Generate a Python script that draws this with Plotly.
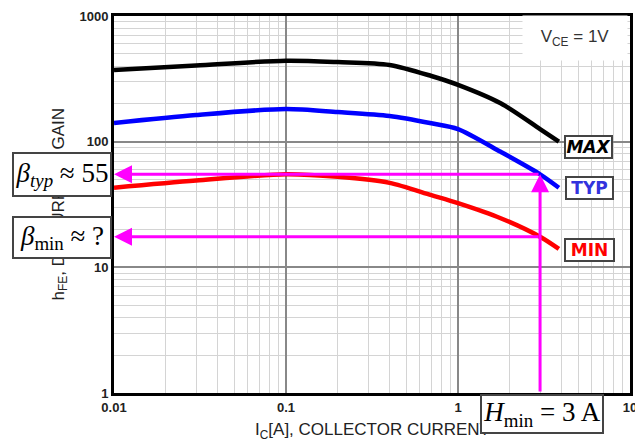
import math
import plotly.graph_objects as go

# ---- data ----
ic = [0.01, 0.03, 0.1, 0.2, 0.4, 0.7, 1.0, 1.77, 3.0, 3.86]
hfe_max = [372, 404, 441, 430, 408, 333, 283, 202, 126, 100]
hfe_typ = [141, 163, 182, 172, 160, 140, 126, 83, 55, 43]
hfe_min = [43, 49, 55, 52.5, 47, 37.5, 32.4, 24.6, 17.5, 14]

x_ticks = [0.01, 0.1, 1, 10]
x_ticktext = ["0.01", "0.1", "1", "10"]
y_ticks = [1, 10, 100, 1000]
y_ticktext = ["1", "10", "100", "1000"]

ic_op = 3.0
beta_typ = 55
beta_min = 17.5

# plot-area geometry (pixels) for paper-coordinate helpers
L, R, T, B = 114, 630, 16, 393
W, H = 635, 443
def px(x):
    return (x - L) / (R - L)
def py(y):
    return (B - y) / (B - T)

fig = go.Figure()
for ys, col in [(hfe_max, "black"), (hfe_typ, "#0000ff"), (hfe_min, "#ff0000")]:
    fig.add_trace(go.Scatter(x=ic, y=ys, mode="lines",
                             line=dict(color=col, width=4.5, shape="spline", smoothing=0.8),
                             showlegend=False, hoverinfo="skip"))

C = dict(xanchor="center", yanchor="middle")
ann = []
# axis titles
ann.append(dict(xref="paper", yref="paper", x=px(59), y=0.5, textangle=-90,
                text="h<sub>FE</sub>, DC CURRENT GAIN", showarrow=False,
                font=dict(family="Liberation Sans", size=17, color="#222"), **C))
ann.append(dict(xref="paper", yref="paper", x=0.5, y=py(431),
                text="I<sub>C</sub>[A], COLLECTOR CURRENT", showarrow=False,
                font=dict(family="Liberation Sans", size=17, color="#222"), **C))
# magenta arrows
mag = "#ff00ff"
for (x0, y0, x1, y1) in [(ic_op, beta_typ, 0.01, beta_typ),
                         (ic_op, beta_min, 0.01, beta_min),
                         (ic_op, 1, ic_op, beta_typ)]:
    ann.append(dict(xref="x", yref="y", axref="x", ayref="y",
                    x=math.log10(x1), y=math.log10(y1),
                    ax=math.log10(x0), ay=math.log10(y0),
                    text="", showarrow=True, arrowhead=2, arrowsize=1.2,
                    arrowwidth=3, arrowcolor=mag, standoff=0, startstandoff=0))
# V_CE label
ann.append(dict(xref="paper", yref="paper", x=px(575), y=py(38),
                text="V<sub>CE</sub> = 1V", showarrow=False,
                font=dict(family="Liberation Sans", size=17, color="#333"),
                bgcolor="white", width=102, height=42, **C))
# curve labels
lab_font = "DejaVu Sans"
for txt, col, cx, cy, w in [("<b><i>MAX</i></b>", "black", 588.5, 146.5, 45),
                            ("<b>TYP</b>", "#3333dd", 589.5, 188, 45),
                            ("<b>MIN</b>", "#ff0000", 589.5, 250, 47)]:
    ann.append(dict(xref="paper", yref="paper", x=px(cx), y=py(cy), text=txt,
                    showarrow=False, font=dict(family=lab_font, size=17, color=col),
                    bgcolor="white", bordercolor="#444", borderwidth=2,
                    borderpad=0, width=w, height=20, **C))
# math boxes
serif = "Liberation Serif"
for txt, cx, cy, w, h in [("<i>β<sub>typ</sub></i> ≈ 55", 62, 174.5, 94, 39),
                          ("<i>β</i><sub>min</sub> ≈ ?", 62, 237.5, 94, 37),
                          ("<i>H</i><sub>min</sub> = 3 A", 542, 414, 118, 34)]:
    ann.append(dict(xref="paper", yref="paper", x=px(cx), y=py(cy), text=txt,
                    showarrow=False, font=dict(family=serif, size=27, color="black"),
                    bgcolor="white", bordercolor="#444", borderwidth=2,
                    borderpad=1, width=w, height=h, **C))

axis_common = dict(type="log", showline=True, mirror=True, linecolor="black",
                   linewidth=3, ticks="", showgrid=True, gridcolor="#888",
                   gridwidth=1.5, zeroline=False, automargin=False,
                   ticklabeloverflow="allow",
                   tickfont=dict(family="Liberation Sans", size=13, color="#222"))

fig.update_layout(
    width=W, height=H, autosize=False,
    margin=dict(l=L, r=W - R, t=T, b=H - B),
    paper_bgcolor="white", plot_bgcolor="white",
    xaxis=dict(range=[-2, 1], tickvals=x_ticks,
               ticktext=["<b>%s</b>" % t for t in x_ticktext],
               minor=dict(dtick="D1", showgrid=True, gridcolor="#d4d4d4", gridwidth=1),
               **axis_common),
    yaxis=dict(range=[0, 3], tickvals=y_ticks,
               ticktext=["<b>%s</b>" % t for t in y_ticktext],
               minor=dict(dtick="D1", showgrid=True, gridcolor="#d4d4d4", gridwidth=1),
               **axis_common),
    annotations=ann,
)

fig.write_html("out.html", config={"displayModeBar": False},
               post_script="document.body.style.margin='0';document.body.style.overflow='hidden';")
